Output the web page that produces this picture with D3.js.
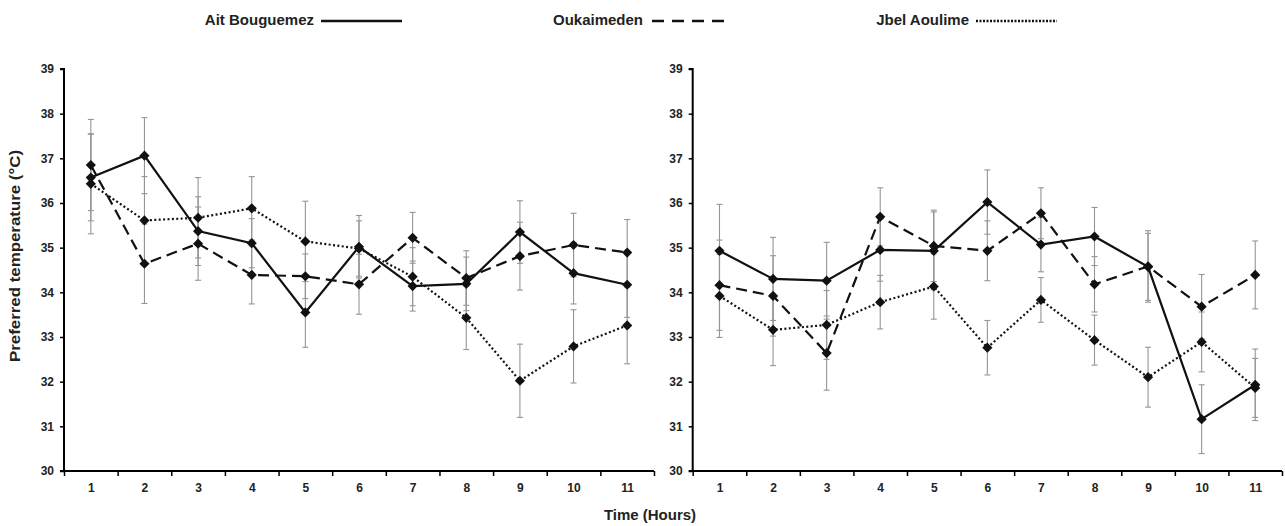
<!DOCTYPE html>
<html>
<head>
<meta charset="utf-8">
<script src="https://cdn.jsdelivr.net/npm/d3@7"></script>
<style>
  body { margin: 0; background: #fff; }
  svg { font-family: "Liberation Sans", Arial, sans-serif; font-weight: bold; }
</style>
</head>
<body>
<svg id="chart" width="1285" height="526"></svg>
<script>
// data
const hours = [1, 2, 3, 4, 5, 6, 7, 8, 9, 10, 11];
const yTicks = [30, 31, 32, 33, 34, 35, 36, 37, 38, 39];
const seriesNames = ["Ait Bouguemez", "Oukaimeden", "Jbel Aoulime"];

// left panel
const aitLeft = [36.57, 37.06, 35.37, 35.10, 33.55, 35.02, 34.14, 34.19, 35.35, 34.43, 34.17];
const aitLeftErr = [0.97, 0.85, 0.77, 0.55, 0.78, 0.70, 0.56, 0.60, 0.70, 0.69, 0.73];
const oukLeft = [36.85, 34.64, 35.09, 34.39, 34.36, 34.18, 35.22, 34.32, 34.81, 35.06, 34.89];
const oukLeftErr = [1.02, 0.89, 0.82, 0.65, 0.50, 0.67, 0.57, 0.61, 0.76, 0.71, 0.74];
const jbelLeft = [36.43, 35.61, 35.67, 35.88, 35.14, 34.98, 34.35, 33.43, 32.02, 32.79, 33.26];
const jbelLeftErr = [1.12, 0.98, 0.90, 0.71, 0.90, 0.62, 0.65, 0.71, 0.82, 0.82, 0.86];

// right panel
const aitRight = [34.93, 34.30, 34.26, 34.95, 34.93, 36.02, 35.07, 35.25, 34.57, 31.16, 31.93];
const aitRightErr = [1.04, 0.93, 0.86, 0.70, 0.87, 0.72, 0.61, 0.65, 0.75, 0.77, 0.80];
const oukRight = [34.16, 33.92, 32.64, 35.69, 35.04, 34.93, 35.77, 34.18, 34.58, 33.68, 34.39];
const oukRightErr = [1.01, 0.90, 0.83, 0.65, 0.80, 0.67, 0.57, 0.62, 0.80, 0.72, 0.76];
const jbelRight = [33.92, 33.16, 33.27, 33.78, 34.13, 32.76, 33.83, 32.93, 32.10, 32.89, 31.86];
const jbelRightErr = [0.93, 0.80, 0.77, 0.60, 0.73, 0.61, 0.50, 0.56, 0.67, 0.67, 0.66];

const dashes = [null, "11,6", "2,2.4"];

const svg = d3.select("#chart");
const plotTop = 69, plotBottom = 471;

const yScale = d3.scaleLinear()
  .domain([30, 39])
  .range([plotBottom, plotTop]);

const panels = [
  { x0: 64, x1: 654, series: [[aitLeft, aitLeftErr], [oukLeft, oukLeftErr], [jbelLeft, jbelLeftErr]] },
  { x0: 692.7, x1: 1282, series: [[aitRight, aitRightErr], [oukRight, oukRightErr], [jbelRight, jbelRightErr]] }
];

function drawPanel(p) {
  const xScale = d3.scaleLinear()
    .domain([0.5, 11.5])
    .range([p.x0, p.x1]);

  const g = svg.append("g");

  // error bars
  p.series.forEach(([vals, errs]) => {
    const eb = g.append("g")
      .attr("stroke", "#959595")
      .attr("stroke-width", 1.1);
    hours.forEach((h, i) => {
      const x = xScale(h);
      const y1 = yScale(vals[i] + errs[i]);
      const y2 = yScale(vals[i] - errs[i]);
      eb.append("line").attr("x1", x).attr("x2", x).attr("y1", y1).attr("y2", y2);
      eb.append("line").attr("x1", x - 3).attr("x2", x + 3).attr("y1", y1).attr("y2", y1);
      eb.append("line").attr("x1", x - 3).attr("x2", x + 3).attr("y1", y2).attr("y2", y2);
    });
  });

  // lines
  const line = d3.line()
    .x((d, i) => xScale(hours[i]))
    .y(d => yScale(d));

  p.series.forEach(([vals], k) => {
    g.append("path")
      .datum(vals)
      .attr("fill", "none")
      .attr("stroke", "#111")
      .attr("stroke-width", 2.2)
      .attr("stroke-dasharray", dashes[k])
      .attr("d", line);
  });

  // diamond markers
  const diamond = d3.symbol(d3.symbolSquare, 52);
  p.series.forEach(([vals]) => {
    g.selectAll(null)
      .data(vals)
      .enter()
      .append("path")
      .attr("d", diamond)
      .attr("fill", "#111")
      .attr("transform", (d, i) => `translate(${xScale(hours[i])},${yScale(d)}) rotate(45)`);
  });

  // y axis
  const yAxis = d3.axisLeft(yScale)
    .tickValues(yTicks)
    .tickSize(4)
    .tickPadding(6)
    .tickFormat(d3.format("d"));

  const ya = g.append("g")
    .attr("transform", `translate(${p.x0},0)`)
    .call(yAxis);
  ya.select(".domain").attr("stroke-width", 2).attr("d", `M-4,${plotTop}H0V${plotBottom}H-4`);
  ya.selectAll(".tick line").attr("stroke-width", 1.5);
  ya.selectAll("text").attr("font-size", 12).attr("font-weight", "bold").attr("fill", "#222");

  // x axis: boundary ticks
  const xa = g.append("g")
    .attr("transform", `translate(0,${plotBottom})`)
    .call(d3.axisBottom(xScale)
      .tickValues(d3.range(0.5, 12, 1))
      .tickSize(5)
      .tickFormat(""));
  xa.select(".domain").attr("stroke-width", 2.2).attr("d", `M${p.x0},0H${p.x1}`);
  xa.selectAll(".tick line").attr("stroke-width", 1.5);

  // x axis: hour labels
  const xl = g.append("g")
    .attr("transform", `translate(0,${plotBottom})`)
    .call(d3.axisBottom(xScale)
      .tickValues(hours)
      .tickSize(0)
      .tickPadding(12)
      .tickFormat(d3.format("d")));
  xl.select(".domain").remove();
  xl.selectAll("text").attr("font-size", 12).attr("font-weight", "bold").attr("fill", "#222");
}

panels.forEach(drawPanel);

// axis titles
svg.append("text")
  .attr("x", 650)
  .attr("y", 520)
  .attr("text-anchor", "middle")
  .attr("font-size", 15)
  .attr("fill", "#222")
  .text("Time (Hours)");

svg.append("text")
  .attr("transform", "translate(20,256) rotate(-90)")
  .attr("text-anchor", "middle")
  .attr("font-size", 15)
  .attr("textLength", 212)
  .attr("lengthAdjust", "spacingAndGlyphs")
  .attr("fill", "#222")
  .text("Preferred temperature (°C)");

// legend
const legendItems = [
  { textEnd: 314, lineStart: 321, lineEnd: 402 },
  { textEnd: 643, lineStart: 652, lineEnd: 730 },
  { textEnd: 969, lineStart: 976, lineEnd: 1057 }
];

legendItems.forEach((d, k) => {
  svg.append("text")
    .attr("x", d.textEnd)
    .attr("y", 25)
    .attr("text-anchor", "end")
    .attr("font-size", 15)
    .attr("fill", "#222")
    .text(seriesNames[k]);
  svg.append("line")
    .attr("x1", d.lineStart)
    .attr("x2", d.lineEnd)
    .attr("y1", 21)
    .attr("y2", 21)
    .attr("stroke", "#111")
    .attr("stroke-width", 2.4)
    .attr("stroke-dasharray", k === 1 ? "12,8" : k === 2 ? "2,1.5" : null);
});
</script>
</body>
</html>
